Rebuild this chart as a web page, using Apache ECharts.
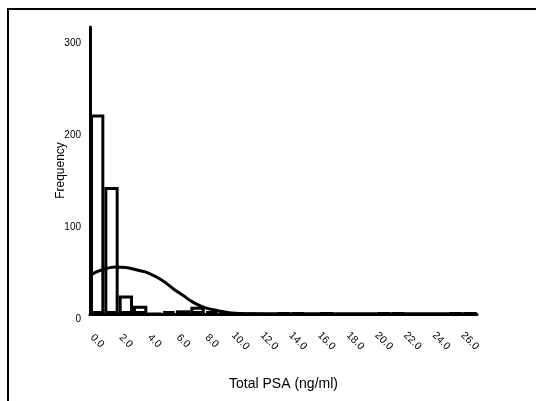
<!DOCTYPE html>
<html>
<head>
<meta charset="utf-8">
<script src="https://cdn.jsdelivr.net/npm/echarts@6/dist/echarts.min.js"></script>
<style>
  html, body { margin: 0; padding: 0; background: #fff; }
  #main { width: 536px; height: 401px; }
</style>
</head>
<body>
<div id="main"></div>
<script>
// histogram bins (midpoints, width 1.0)
var binLabels = ['0.0', '1.0', '2.0', '3.0', '4.0', '5.0', '6.0', '7.0', '8.0', '9.0',
  '10.0', '11.0', '12.0', '13.0', '14.0', '15.0', '16.0', '17.0', '18.0', '19.0',
  '20.0', '21.0', '22.0', '23.0', '24.0', '25.0', '26.0']
var freq = [217, 138, 20, 9, 0, 3, 4, 8, 3, 1, 0, 0, 0, 1, 1, 0, 1, 0, 0, 0,
  1, 1, 0, 0, 0, 1, 1]
// fitted normal curve
var curveX = [-0.5, 0, 0.5, 1.3, 2, 3, 3.5, 4.5, 5.3, 6, 6.7, 7.5, 8.4, 9.2, 10, 11, 13, 26.5]
var curveY = [42, 46, 49, 51, 50.5, 47, 45, 37, 27.5, 20, 12.6, 7, 3.6, 1.5, 0.5, 0.2, 0, 0]
var yTicks = [0, 100, 200, 300]

var font = 'Liberation Sans, Arial, sans-serif'
var myChart = echarts.init(document.getElementById('main'))

var option = {
  backgroundColor: '#fff',
  animation: false,
  graphic: [{
    type: 'polyline',
    shape: { points: [[8, 401], [8, 9], [536, 9]] },
    style: { fill: null, stroke: '#000', lineWidth: 2 }
  }],
  grid: { left: 90, right: 59, top: 27, bottom: 87 },
  xAxis: [{
    type: 'category',
    data: binLabels,
    boundaryGap: true,
    name: 'Total PSA (ng/ml)',
    nameLocation: 'middle',
    nameGap: 63,
    nameTextStyle: { color: '#000', fontFamily: font, fontSize: 14 },
    axisLine: { lineStyle: { color: '#000', width: 3 } },
    axisTick: { alignWithLabel: true, interval: 1, length: 3, lineStyle: { color: '#000' } },
    axisLabel: {
      interval: 1, rotate: -45, align: 'center', verticalAlign: 'middle',
      margin: 27, color: '#000', fontFamily: font, fontSize: 10.5
    },
    splitLine: { show: false }
  }, {
    type: 'value',
    min: -0.5,
    max: 26.5,
    show: false
  }],
  yAxis: {
    type: 'value',
    min: 0,
    max: 312,
    interval: 100,
    name: 'Frequency',
    nameLocation: 'middle',
    nameGap: 23,
    nameMoveOverlap: false,
    nameTextStyle: { color: '#000', fontFamily: font, fontSize: 12 },
    axisLine: { show: true, onZero: false, lineStyle: { color: '#000', width: 3 } },
    axisTick: { show: true, inside: true, length: 2, lineStyle: { color: '#000' } },
    axisLabel: {
      showMaxLabel: false, verticalAlign: 'top', margin: 9,
      color: '#000', fontFamily: font, fontSize: 10,
      formatter: function (v) { return yTicks.indexOf(v) >= 0 ? v : '' }
    },
    splitLine: { show: false }
  },
  series: [{
    type: 'bar',
    data: freq,
    barCategoryGap: 0,
    itemStyle: { color: '#fff', borderColor: '#000', borderWidth: 3 },
    silent: true
  }, {
    type: 'line',
    xAxisIndex: 1,
    data: curveX.map(function (x, i) { return [x, curveY[i]] }),
    smooth: 0.4,
    symbol: 'none',
    lineStyle: { color: '#000', width: 3 },
    silent: true,
    z: 3
  }]
}
myChart.setOption(option)
</script>
</body>
</html>
